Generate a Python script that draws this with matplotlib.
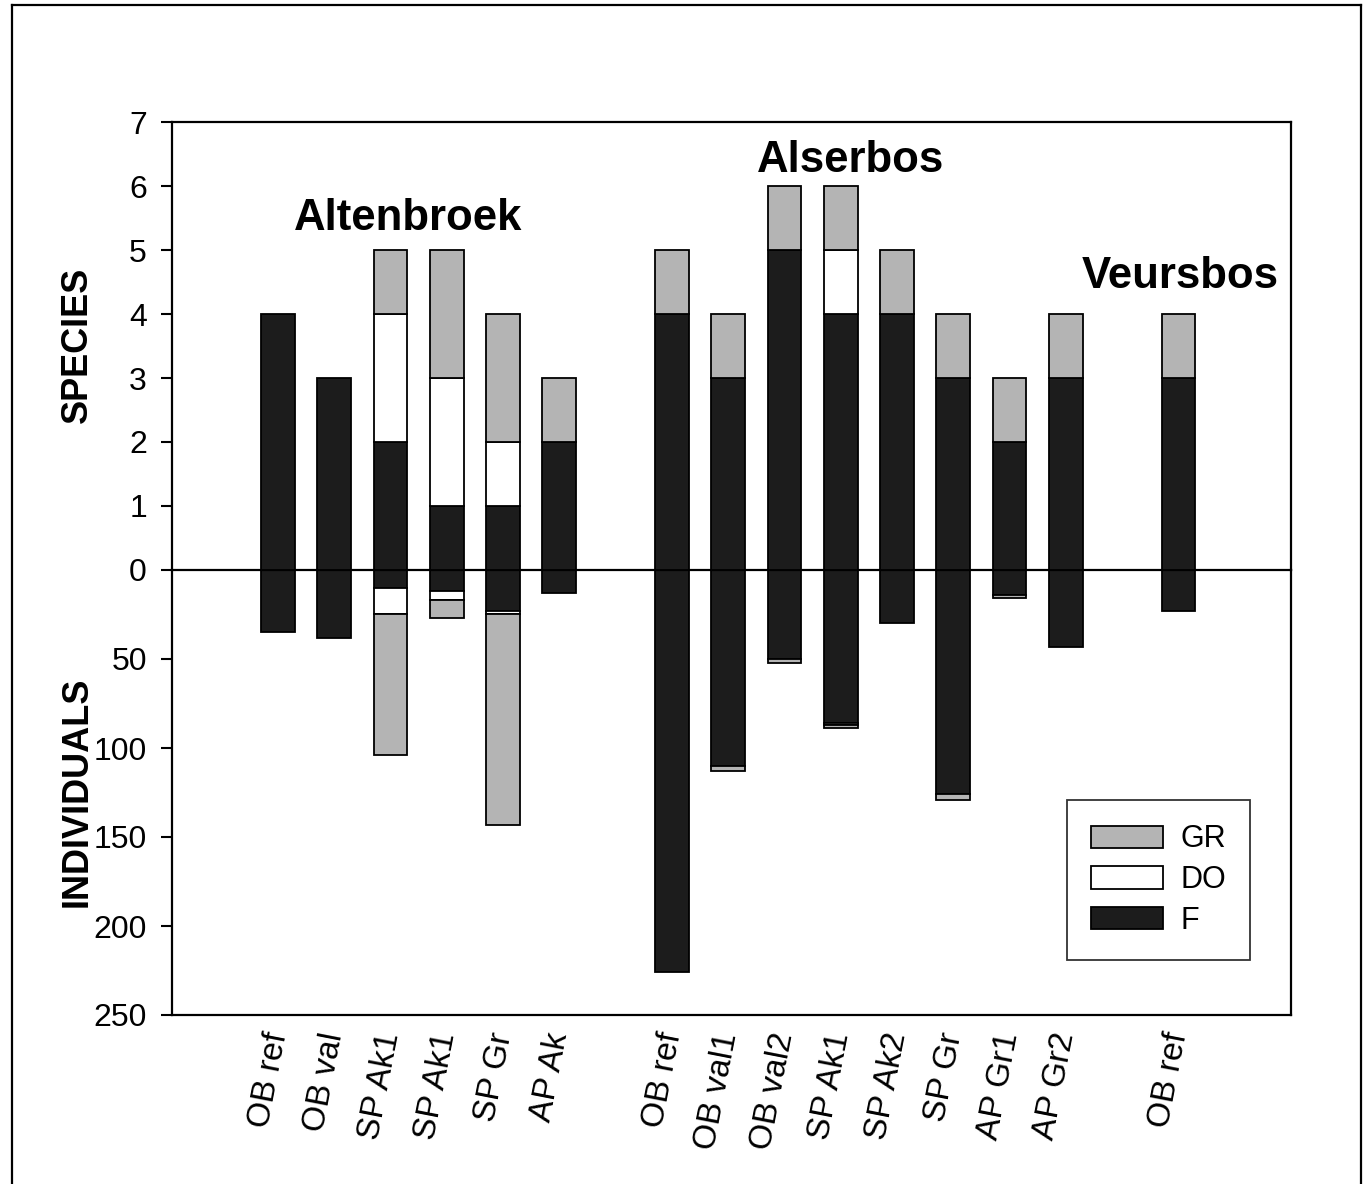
import matplotlib
matplotlib.use('Agg')
import matplotlib.pyplot as plt
from matplotlib.patches import Patch
from matplotlib.lines import Line2D
import numpy as np

plt.rcParams['font.family'] = ['Liberation Sans', 'DejaVu Sans']

# groups and sample labels
groups = ['Altenbroek', 'Alserbos', 'Veursbos']
labels_alt = ['OB ref', 'OB val', 'SP Ak1', 'SP Ak1', 'SP Gr', 'AP Ak']
labels_als = ['OB ref', 'OB val1', 'OB val2', 'SP Ak1', 'SP Ak2', 'SP Gr', 'AP Gr1', 'AP Gr2']
labels_veu = ['OB ref']

# number of species (upper panel)
sp_F = [4, 3, 2, 1, 1, 2,   4, 3, 5, 4, 4, 3, 2, 3,   3]
sp_DO = [0, 0, 2, 2, 1, 0,  0, 0, 0, 1, 0, 0, 0, 0,   0]
sp_GR = [0, 0, 1, 2, 2, 1,  1, 1, 1, 1, 1, 1, 1, 1,   1]

# number of individuals (lower panel)
ind_F = [35, 38, 10, 12, 23, 13,   226, 110, 50, 86, 30, 126, 14, 43,   23]
ind_DO = [0, 0, 15, 5, 1.5, 0,     0, 0, 0, 1, 0, 0, 0, 0,   0]
ind_GR = [0, 0, 79, 10, 118.5, 0,  0, 3, 2.5, 2, 0, 3, 1.5, 0,   0]

col_F = '#1c1c1c'
col_DO = '#ffffff'
col_GR = '#b4b4b4'

# x positions: one empty slot between groups
positions = []
tick_labels = []
x = 0
for lab in [labels_alt, labels_als, labels_veu]:
    for l in lab:
        positions.append(x)
        tick_labels.append(l)
        x += 1
    x += 1
positions = np.array(positions, dtype=float)

W, H = 1367, 1184
fig = plt.figure(figsize=(W / 100, H / 100), dpi=100)

left, right = 172 / W, 1291 / W
y_top, y_zero, y_bot = 1 - 122 / H, 1 - 570 / H, 1 - 1015 / H
ax2 = fig.add_axes([left, y_bot, right - left, y_zero - y_bot])
ax1 = fig.add_axes([left, y_zero, right - left, y_top - y_zero])
ax1.patch.set_visible(False)
ax2.patch.set_visible(False)

bw = 0.6
lw = 1.3


def stack(ax, segs, cols):
    bottom = np.zeros(len(positions))
    for vals, c in zip(segs, cols):
        vals = np.array(vals, dtype=float)
        m = vals > 0
        ax.bar(positions[m], vals[m], bw, bottom=bottom[m], color=c,
               edgecolor='black', linewidth=lw, zorder=3)
        bottom = bottom + vals


stack(ax1, [sp_F, sp_DO, sp_GR], [col_F, col_DO, col_GR])
stack(ax2, [ind_F, ind_DO, ind_GR], [col_F, col_DO, col_GR])

xlim = (-1.88, 18.0)
for ax in (ax1, ax2):
    ax.set_xlim(*xlim)
    for s in ax.spines.values():
        s.set_linewidth(1.6)
    ax.tick_params(axis='y', direction='out', length=8, width=1.5,
                   labelsize=23, pad=10)

ax1.set_ylim(0, 7)
ax1.set_yticks(range(0, 8))
ax1.set_xticks([])

ax2.set_ylim(250, 0)
ax2.set_yticks([50, 100, 150, 200, 250])
ax2.spines['top'].set_visible(False)
ax2.set_xticks(positions)
ax2.set_xticklabels(tick_labels, rotation=79, fontsize=24,
                    ha='right', va='center', rotation_mode='anchor')
ax2.tick_params(axis='x', length=0, pad=13)

fig.text(77 / W, 1 - 345 / H, 'SPECIES', rotation=90, fontsize=26,
         fontweight='bold', ha='center', va='center')
fig.text(77 / W, 1 - 792 / H, 'INDIVIDUALS', rotation=90, fontsize=26,
         fontweight='bold', ha='center', va='center')

ax1.text(2.31, 5.5, groups[0], fontsize=31.5, fontweight='bold', ha='center', va='center')
ax1.text(10.18, 6.4, groups[1], fontsize=31.5, fontweight='bold', ha='center', va='center')
ax1.text(16.04, 4.59, groups[2], fontsize=31.5, fontweight='bold', ha='center', va='center')

handles = [Patch(facecolor=col_GR, edgecolor='black', linewidth=lw, label='GR'),
           Patch(facecolor=col_DO, edgecolor='black', linewidth=lw, label='DO'),
           Patch(facecolor=col_F, edgecolor='black', linewidth=lw, label='F')]
leg = ax2.legend(handles=handles, loc='upper left',
                 bbox_to_anchor=(1067 / W, 1 - 800 / H), bbox_transform=fig.transFigure,
                 fontsize=22, frameon=True, fancybox=False, edgecolor='black',
                 handlelength=2.35, handleheight=0.75, labelspacing=0.35,
                 borderpad=0.8, handletextpad=0.55, borderaxespad=0)
leg.get_frame().set_linewidth(1.3)

# outer frame around the figure
x0, x1, yt = 12 / W, 1361 / W, 1 - 5 / H
for xs, ys in [([x0, x0], [0, yt]), ([x0, x1], [yt, yt]), ([x1, x1], [yt, 0])]:
    fig.add_artist(Line2D(xs, ys, transform=fig.transFigure, color='black', linewidth=1.6))

fig.savefig('out.png', dpi=100)
